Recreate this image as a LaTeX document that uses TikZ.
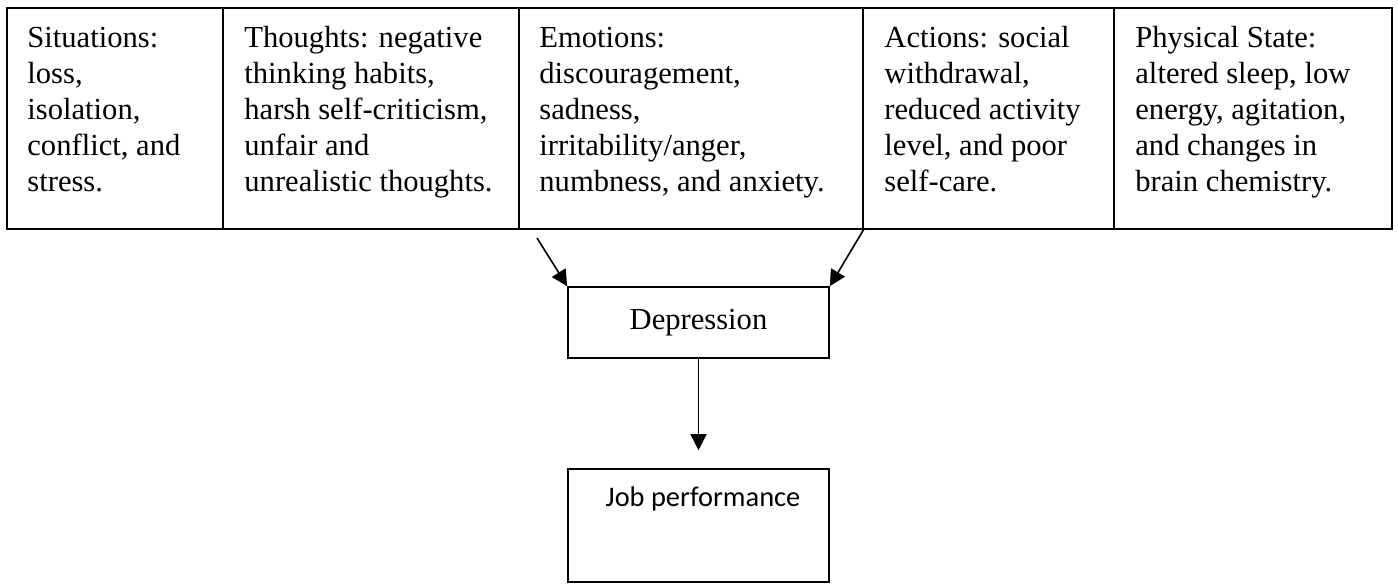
\documentclass[tikz,border=0pt]{standalone}
\usepackage{fontspec}
\setmainfont{Liberation Serif}
\newfontfamily\calibrifont{Carlito}
\usetikzlibrary{arrows.meta}
\newcommand{\firststrut}{\rule{0pt}{12pt}}
\begin{document}
\begin{tikzpicture}[x=0.5pt,y=-0.5pt,
  cell/.style={draw, line width=0.8pt, anchor=north west, inner sep=0, minimum height=110.5pt},
  celltext/.style={anchor=north west, inner sep=0, align=left, font=\fontsize{15.3}{18}\selectfont},
  box/.style={draw, line width=0.8pt, inner sep=0, minimum width=130.5pt},
  arr/.style={line width=0.8pt, -{Triangle[length=8pt,width=8pt]}}]
\useasboundingbox (0,0) rectangle (1398,584);
% table cells
\node[cell, minimum width=108pt] (c1) at (6,7) {};
\node[cell, minimum width=148pt] (c2) at (222,7) {};
\node[cell, minimum width=172pt] (c3) at (518,7) {};
\node[cell, minimum width=125.5pt] (c4) at (862,7) {};
\node[cell, minimum width=139pt] (c5) at (1113,7) {};
% cell texts
\node[celltext] (t1) at (27,23) {\firststrut Situations:\\ loss,\\ isolation,\\ conflict, and\\ stress.};
\node[celltext] (t2) at (244,23) {\firststrut Thoughts: negative\\ thinking habits,\\ harsh self-criticism,\\ unfair and\\ unrealistic thoughts.};
\node[celltext] (t3) at (539,23) {\firststrut Emotions:\\ discouragement,\\ sadness,\\ irritability/anger,\\ numbness, and anxiety.};
\node[celltext] (t4) at (884,23) {\firststrut Actions: social\\ withdrawal,\\ reduced activity\\ level, and poor\\ self-care.};
\node[celltext] (t5) at (1135,23) {\firststrut Physical State:\\ altered sleep, low\\ energy, agitation,\\ and changes in\\ brain chemistry.};
% boxes
\node[box, minimum height=35.5pt, font=\fontsize{15.3}{18}\selectfont] (dep) at (698.5,322.5) {Depression};
\node[box, minimum height=56.5pt] (job) at (698.5,525.5) {};
\node[anchor=base, inner sep=0, font=\calibrifont\fontsize{14.2}{16}\selectfont] (jt) at (703,506) {Job performance};
% arrows
\coordinate (s1) at (537,238);
\draw[arr] (s1) -- (dep.north west);
\draw[arr] (c3.south east) -- (dep.north east);
\draw[arr, shorten >=9pt] (dep.south) -- (job.north);
\end{tikzpicture}
\end{document}
